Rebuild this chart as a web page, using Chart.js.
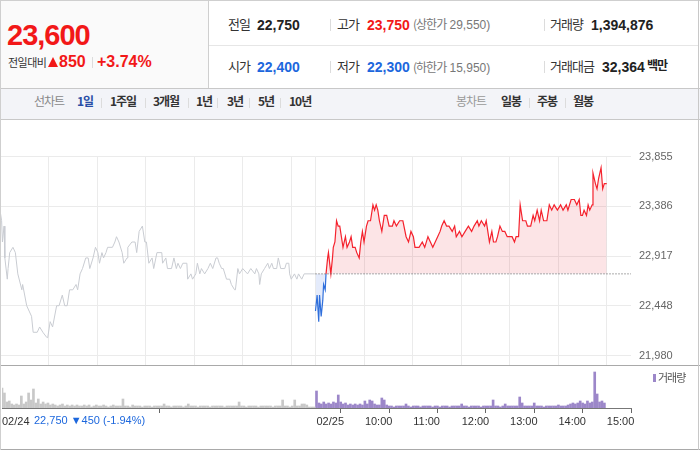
<!DOCTYPE html>
<html>
<head>
<meta charset="utf-8">
<script src="https://cdn.jsdelivr.net/npm/chart.js@4.4.1/dist/chart.umd.min.js"></script>
<style>
body { margin: 0; background: #fff; }
#wrap { position: relative; width: 700px; height: 450px; overflow: hidden; font-family: "Liberation Sans", "Noto Sans CJK KR", sans-serif; }
.t { position: absolute; white-space: nowrap; line-height: 1; }
.k { font-family: "Noto Sans CJK KR", sans-serif; letter-spacing: -1px; }
.line { position: absolute; background: #d6d6d6; }
.sep { position: absolute; width: 1px; background: #dcdcdc; }
canvas { position: absolute; left: 0; }
</style>
</head>
<body>
<div id="wrap">
  <!-- header -->
  <div style="position:absolute;left:0;top:0;width:208px;height:88px;background:#fafafa"></div>
  <div class="line" style="left:0;top:0;width:700px;height:1px;background:#cfcfcf"></div>
  <div class="line" style="left:208px;top:1px;width:1px;height:87px;background:#cfcfcf"></div>
  <div class="line" style="left:209px;top:45px;width:490px;height:1px;background:#e6e6e6"></div>
  <div class="line" style="left:0;top:88px;width:700px;height:1px;background:#c8c8c8"></div>

  <span class="t" style="left:7px;top:21px;font-size:29px;font-weight:bold;color:#f21818;letter-spacing:-1px">23,600</span>
  <span class="t k" style="left:8px;top:57px;font-size:11px;color:#333;letter-spacing:-0.5px">전일대비</span>
  <div style="position:absolute;left:48px;top:57px;width:0;height:0;border-left:5px solid transparent;border-right:5px solid transparent;border-bottom:10px solid #f21818"></div>
  <span class="t" style="left:59px;top:54px;font-size:16px;font-weight:bold;color:#f21818">850</span>
  <div class="sep" style="left:92px;top:57px;height:11px"></div>
  <span class="t" style="left:97px;top:54px;font-size:16px;font-weight:bold;color:#f21818">+3.74%</span>

  <span class="t k" style="left:228px;top:17px;font-size:13px;color:#333">전일</span>
  <span class="t" style="left:257px;top:17.5px;font-size:14px;font-weight:bold;color:#222">22,750</span>
  <div class="sep" style="left:330px;top:19px;height:12px"></div>
  <span class="t k" style="left:337px;top:17px;font-size:13px;color:#333">고가</span>
  <span class="t" style="left:367px;top:17.5px;font-size:14px;font-weight:bold;color:#f21818">23,750</span>
  <span class="t" style="left:413px;top:18px;font-size:12px;color:#777"><span class="k">(상한가</span> 29,550)</span>
  <div class="sep" style="left:544px;top:19px;height:12px"></div>
  <span class="t k" style="left:550px;top:17px;font-size:13px;color:#333">거래량</span>
  <span class="t" style="left:591px;top:17.5px;font-size:14px;font-weight:bold;color:#222">1,394,876</span>

  <span class="t k" style="left:228px;top:59px;font-size:13px;color:#333">시가</span>
  <span class="t" style="left:257px;top:60px;font-size:14px;font-weight:bold;color:#1c67dd">22,400</span>
  <div class="sep" style="left:330px;top:61px;height:12px"></div>
  <span class="t k" style="left:337px;top:59px;font-size:13px;color:#333">저가</span>
  <span class="t" style="left:367px;top:60px;font-size:14px;font-weight:bold;color:#1c67dd">22,300</span>
  <span class="t" style="left:413px;top:60.5px;font-size:12px;color:#777"><span class="k">(하한가</span> 15,950)</span>
  <div class="sep" style="left:544px;top:61px;height:12px"></div>
  <span class="t k" style="left:550px;top:59px;font-size:13px;color:#333">거래대금</span>
  <span class="t" style="left:602px;top:60px;font-size:14px;font-weight:bold;color:#222">32,364</span>
  <span class="t k" style="left:647px;top:59px;font-size:12px;font-weight:bold;color:#222">백만</span>

  <!-- period tabs -->
  <div style="position:absolute;left:0;top:89px;width:700px;height:30px;background:#f3f4f8"></div>
  <div class="line" style="left:0;top:119px;width:700px;height:1px;background:#c8c8c8"></div>
  <span class="t k" style="left:34px;top:95px;font-size:12px;color:#888">선차트</span>
  <span class="t k" style="left:77px;top:95px;font-size:12px;font-weight:bold;color:#2a4ea6">1일</span>
  <div class="sep" style="left:101px;top:98px;height:10px"></div>
  <span class="t k" style="left:110px;top:95px;font-size:12px;font-weight:bold;color:#333">1주일</span>
  <div class="sep" style="left:145px;top:98px;height:10px"></div>
  <span class="t k" style="left:153px;top:95px;font-size:12px;font-weight:bold;color:#333">3개월</span>
  <div class="sep" style="left:188px;top:98px;height:10px"></div>
  <span class="t k" style="left:196px;top:95px;font-size:12px;font-weight:bold;color:#333">1년</span>
  <div class="sep" style="left:217px;top:98px;height:10px"></div>
  <span class="t k" style="left:227px;top:95px;font-size:12px;font-weight:bold;color:#333">3년</span>
  <div class="sep" style="left:249px;top:98px;height:10px"></div>
  <span class="t k" style="left:258px;top:95px;font-size:12px;font-weight:bold;color:#333">5년</span>
  <div class="sep" style="left:280px;top:98px;height:10px"></div>
  <span class="t k" style="left:289px;top:95px;font-size:12px;font-weight:bold;color:#333">10년</span>
  <span class="t k" style="left:456px;top:95px;font-size:12px;color:#999">봉차트</span>
  <span class="t k" style="left:501px;top:95px;font-size:12px;font-weight:bold;color:#333">일봉</span>
  <div class="sep" style="left:529px;top:98px;height:10px"></div>
  <span class="t k" style="left:537px;top:95px;font-size:12px;font-weight:bold;color:#333">주봉</span>
  <div class="sep" style="left:565px;top:98px;height:10px"></div>
  <span class="t k" style="left:573px;top:95px;font-size:12px;font-weight:bold;color:#333">월봉</span>

  <!-- charts -->
  <canvas id="priceChart" width="700" height="245" style="top:120px"></canvas>
  <canvas id="volChart" width="700" height="84" style="top:365px"></canvas>
  <div class="line" style="left:0;top:365px;width:700px;height:1px;background:#a9a9a9"></div>
  <div class="line" style="left:0;top:449px;width:700px;height:1px;background:#a9a9a9"></div>
  <div class="line" style="left:0;top:0;width:1px;height:450px;background:#cfcfcf"></div>
  <div class="line" style="left:698px;top:0;width:1px;height:450px;background:#c8c8c8"></div>

  <div style="position:absolute;left:653px;top:374px;width:3px;height:8px;background:#9c87c9"></div>
  <span class="t k" style="left:658px;top:372px;font-size:11px;color:#555">거래량</span>
  <span class="t" style="left:34px;top:415px;font-size:11px;color:#1c67dd">22,750 ▼450 (-1.94%)</span>
</div>

<script>
// previous close and axis marks
const prevClose = 22750;
const yTicks = [21980, 22448, 22917, 23386, 23855];
const hourTicks = [0, 60, 120, 180, 240, 300, 360, 390, 450, 510, 570, 630, 690, 750];
const volTicks = [0, 390, 450, 510, 570, 630, 690, 750];
const volTickLabels = ["02/24", "02/25", "10:00", "11:00", "12:00", "13:00", "14:00", "15:00"];
const dayOffset = 390; // minutes 09:00-15:30 of 02/24

// 02/24 price, minutes after 09:00
const prevMin = [
  0, 2, 3, 5, 6, 9, 10, 12, 16, 19,
  22, 27, 28, 33, 36, 39, 41, 46, 49, 53,
  58, 59, 62, 65, 70, 73, 77, 80, 83, 86,
  90, 94, 96, 99, 102, 106, 109, 111, 115, 118,
  121, 123, 126, 128, 131, 133, 139, 142, 144, 147,
  151, 153, 157, 158, 163, 167, 169, 172, 176, 179,
  181, 184, 188, 190, 194, 200, 201, 205, 207, 212,
  215, 218, 220, 223, 226, 231, 232, 236, 238, 242,
  244, 247, 249, 253, 257, 260, 263, 267, 269, 271,
  274, 276, 280, 284, 286, 290, 291, 294, 296, 300,
  306, 310, 315, 317, 320, 321, 323, 327, 331, 333,
  336, 338, 342, 344, 347, 352, 354, 357, 358, 360,
  364, 367, 369, 373, 376, 389
];
const prevPrice = [
  23350, 23250, 23050, 23200, 22900, 22700, 22800, 22950, 23000, 22950,
  22750, 22600, 22650, 22450, 22400, 22350, 22200, 22200, 22250, 22200,
  22150, 22150, 22300, 22250, 22450, 22450, 22550, 22450, 22450, 22600,
  22600, 22650, 22600, 22750, 22800, 22900, 22900, 22800, 22900, 23000,
  22950, 22850, 22950, 22900, 22950, 23000, 23000, 23050, 23100, 23050,
  22950, 22850, 22900, 23000, 23050, 23050, 22950, 23150, 23200, 23050,
  23050, 22850, 22900, 22800, 22950, 22950, 22850, 22900, 22800, 22800,
  22900, 22800, 22850, 22800, 22850, 22850, 22700, 22750, 22700, 22750,
  22850, 22750, 22800, 22750, 22800, 22850, 22800, 22900, 22900, 22850,
  22800, 22800, 22700, 22700, 22650, 22600, 22600, 22800, 22750, 22800,
  22750, 22800, 22750, 22800, 22750, 22650, 22750, 22800, 22850, 22800,
  22850, 22800, 22800, 22900, 22800, 22800, 22850, 22850, 22750, 22700,
  22750, 22700, 22750, 22700, 22750, 22750
];

// 02/25 price, minutes after 09:00
const todayMin = [
  0, 2, 4, 5, 7, 9, 10, 12, 13, 15,
  16, 19, 21, 22, 24, 26, 28, 30, 34, 37,
  39, 42, 44, 46, 49, 51, 54, 56, 58, 60,
  63, 65, 68, 71, 73, 75, 77, 79, 82, 85,
  88, 91, 95, 97, 100, 104, 108, 112, 115, 118,
  121, 123, 128, 132, 135, 139, 142, 145, 148, 151,
  154, 156, 159, 162, 165, 169, 172, 174, 178, 181,
  185, 189, 193, 196, 200, 202, 205, 209, 211, 213,
  215, 218, 220, 223, 225, 228, 231, 234, 237, 243,
  246, 248, 251, 253, 256, 260, 262, 266, 269, 271,
  274, 277, 279, 282, 286, 289, 292, 295, 299, 303,
  306, 310, 312, 316, 320, 323, 326, 328, 330, 332,
  335, 337, 339, 342, 343, 346, 348, 350, 353, 355,
  357, 360
];
const todayPrice = [
  22400, 22550, 22300, 22550, 22350, 22500, 22650, 22600, 22750, 22900,
  22950, 22750, 22900, 23000, 23050, 23250, 23200, 23200, 23000, 23100,
  23000, 23050, 23100, 23000, 23000, 22950, 22900, 23050, 23150, 23050,
  23200, 23250, 23250, 23400, 23350, 23400, 23350, 23250, 23150, 23300,
  23300, 23200, 23200, 23250, 23200, 23250, 23250, 23100, 23050, 23150,
  23100, 23000, 23000, 23050, 23000, 23100, 23050, 23000, 23050, 23100,
  23150, 23200, 23250, 23200, 23200, 23150, 23200, 23100, 23150, 23100,
  23150, 23200, 23150, 23200, 23250, 23200, 23250, 23200, 23250, 23150,
  23050, 23150, 23050, 23050, 23100, 23200, 23150, 23150, 23100, 23100,
  23050, 23100, 23100, 23400, 23250, 23250, 23200, 23200, 23300, 23250,
  23350, 23250, 23350, 23250, 23250, 23400, 23350, 23400, 23350, 23400,
  23350, 23400, 23350, 23450, 23450, 23400, 23450, 23300, 23300, 23350,
  23300, 23400, 23350, 23400, 23700, 23600, 23550, 23650, 23750, 23550,
  23600, 23600
];

// volume per 3-minute bar (relative units)
const prevVol = [
  20, 15, 6, 7, 4, 3, 4, 3, 12, 4,
  6, 15, 8, 19, 5, 9, 4, 6, 4, 5,
  3, 4, 3, 2, 3, 4, 2, 3, 2, 3,
  2, 3, 2, 2, 3, 2, 3, 1, 2, 3,
  2, 2, 3, 2, 1, 2, 3, 2, 2, 2,
  9, 2, 2, 1, 3, 2, 2, 2, 1, 2,
  2, 2, 1, 2, 2, 2, 2, 4, 2, 2,
  1, 2, 2, 2, 2, 1, 2, 4, 2, 2,
  2, 1, 2, 2, 2, 2, 1, 2, 2, 2,
  2, 2, 1, 2, 2, 2, 2, 2, 6, 2,
  2, 1, 2, 2, 2, 2, 1, 2, 2, 2,
  2, 2, 1, 2, 2, 2, 8, 2, 2, 1,
  2, 8, 2, 2, 4, 4, 3, 1, 1, 1
];
const todayVol = [
  17, 5, 4, 6, 4, 5, 4, 6, 5, 13,
  6, 4, 5, 3, 4, 3, 4, 3, 4, 3,
  7, 4, 8, 7, 4, 3, 3, 10, 8, 3,
  2, 2, 1, 2, 2, 2, 2, 4, 2, 1,
  2, 2, 2, 1, 2, 2, 2, 2, 1, 2,
  2, 1, 2, 2, 2, 1, 2, 2, 2, 2,
  4, 2, 2, 1, 2, 2, 2, 2, 1, 2,
  2, 2, 2, 8, 2, 2, 1, 2, 4, 2,
  2, 2, 2, 2, 11, 5, 2, 2, 2, 2,
  5, 2, 2, 2, 1, 2, 2, 2, 2, 2,
  3, 2, 2, 2, 3, 4, 5, 4, 5, 7,
  5, 4, 7, 5, 6, 36, 14, 6, 7, 5
];

const RED = "#f5222d";
const BLUE = "#2f6fdc";

new Chart(document.getElementById("priceChart"), {
  type: "line",
  data: {
    datasets: [
      {
        data: [{ x: dayOffset, y: prevClose }, { x: 780, y: prevClose }],
        borderColor: "#555",
        borderWidth: 1,
        borderDash: [1, 2],
        pointRadius: 0,
        order: 0
      },
      {
        data: todayMin.map((m, i) => ({ x: m + dayOffset, y: todayPrice[i] })),
        borderColor: RED,
        borderWidth: 1.2,
        pointRadius: 0,
        fill: { target: { value: prevClose }, above: "rgba(230,30,50,0.12)", below: "rgba(30,90,220,0.12)" },
        segment: {
          borderColor: c => (c.p0.parsed.y < prevClose || c.p1.parsed.y < prevClose) ? BLUE : RED
        },
        order: 1
      },
      {
        data: prevMin.map((m, i) => ({ x: m, y: prevPrice[i] })),
        borderColor: "#c9ccd2",
        borderWidth: 1,
        pointRadius: 0,
        fill: false,
        order: 2
      }
    ]
  },
  options: {
    responsive: false,
    animation: false,
    layout: { padding: { top: 36.5, left: 0, right: 0, bottom: 0 } },
    plugins: { legend: { display: false }, tooltip: { enabled: false } },
    scales: {
      x: {
        type: "linear", min: 0, max: 780,
        afterBuildTicks: a => { a.ticks = hourTicks.map(v => ({ value: v })); },
        afterFit: a => { a.height = 0; a.paddingLeft = 0; a.paddingRight = 0; },
        ticks: { display: false },
        grid: { color: "#ebebeb", drawTicks: false },
        border: { display: false }
      },
      y: {
        position: "right", min: 21892, max: 23855,
        afterBuildTicks: a => { a.ticks = yTicks.map(v => ({ value: v })); },
        afterFit: a => { a.width = 69; a.paddingTop = 0; a.paddingBottom = 0; },
        ticks: {
          padding: 8, color: "#666",
          font: { family: "Liberation Sans", size: 11 },
          callback: v => v.toLocaleString("en-US")
        },
        grid: { color: "#ebebeb", drawTicks: false },
        border: { display: false }
      }
    }
  }
});

new Chart(document.getElementById("volChart"), {
  type: "bar",
  data: {
    datasets: [
      { data: prevVol.map((v, i) => ({ x: i * 3, y: v })), backgroundColor: "#c8c8c8", barThickness: 2, grouped: false },
      { data: todayVol.map((v, i) => ({ x: i * 3 + dayOffset, y: v })), backgroundColor: "#9c87c9", barThickness: 2, grouped: false }
    ]
  },
  options: {
    responsive: false,
    animation: false,
    layout: { padding: { top: 1, left: 0, right: 69, bottom: 0 } },
    plugins: { legend: { display: false }, tooltip: { enabled: false } },
    scales: {
      x: {
        type: "linear", min: 0, max: 780, offset: false,
        afterBuildTicks: a => { a.ticks = volTicks.map(v => ({ value: v })); },
        afterFit: a => { a.height = 41; },
        ticks: {
          align: "start", autoSkip: false, maxRotation: 0, padding: 2,
          color: "#333", font: { family: "Liberation Sans", size: 11 },
          callback: (v, i) => volTickLabels[i]
        },
        grid: { drawOnChartArea: false, tickLength: 5, color: "#666" },
        border: { color: "#777" }
      },
      y: { display: false, min: 0, max: 42 }
    }
  }
});
</script>
</body>
</html>
